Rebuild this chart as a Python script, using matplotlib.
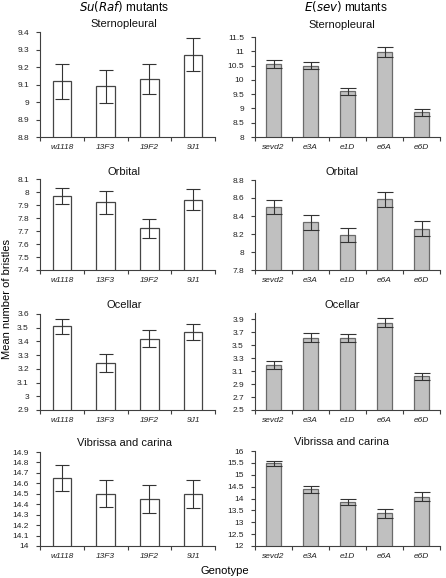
import matplotlib
matplotlib.use("Agg")
import matplotlib.pyplot as plt
import numpy as np

plt.rcParams['font.family'] = ['Liberation Sans', 'DejaVu Sans']

# ---- data ----
suraf_genotypes = ["w1118", "13F3", "19F2", "9J1"]
esev_genotypes = ["sevd2", "e3A", "e1D", "e6A", "e6D"]
panel_titles = ["Sternopleural", "Orbital", "Ocellar", "Vibrissa and carina"]

suraf_means = [
    [9.12, 9.09, 9.13, 9.27],
    [7.97, 7.92, 7.72, 7.94],
    [3.51, 3.24, 3.42, 3.47],
    [14.65, 14.50, 14.45, 14.50],
]
suraf_errs = [
    [0.10, 0.095, 0.085, 0.095],
    [0.063, 0.09, 0.07, 0.08],
    [0.056, 0.066, 0.061, 0.057],
    [0.125, 0.13, 0.135, 0.135],
]
esev_means = [
    [10.55, 10.50, 9.60, 10.97, 8.87],
    [8.50, 8.33, 8.19, 8.585, 8.26],
    [3.20, 3.62, 3.615, 3.85, 3.02],
    [15.48, 14.38, 13.87, 13.37, 14.08],
]
esev_errs = [
    [0.15, 0.13, 0.13, 0.18, 0.12],
    [0.074, 0.08, 0.075, 0.08, 0.08],
    [0.06, 0.07, 0.057, 0.067, 0.054],
    [0.10, 0.15, 0.125, 0.175, 0.175],
]
suraf_ylims = [(8.8, 9.4), (7.4, 8.1), (2.9, 3.6), (14.0, 14.9)]
suraf_ysteps = [0.1, 0.1, 0.1, 0.1]
esev_ylims = [(8.0, 11.5), (7.8, 8.8), (2.5, 4.0), (12.0, 16.0)]
esev_ysteps = [0.5, 0.2, 0.2, 0.5]

W, H = 446, 578
fig = plt.figure(figsize=(W / 100, H / 100), dpi=100)

def add_ax(x0, x1, ytop, ybot):
    return fig.add_axes([x0 / W, 1 - ybot / H, (x1 - x0) / W, (ybot - ytop) / H])

left_rows = [(32, 137), (179, 270), (314, 410), (452, 546)]
right_rows = [(37, 137), (180, 270), (313, 410), (451, 546)]
title_y_left = [24, 172, 305, 443]
title_y_right = [25, 172, 305, 442]

spine_col = "#404040"

def draw_panel(ax, labels, means, errs, ylim, step, face, edge, fmt, capsize):
    n = len(labels)
    x = np.arange(n)
    ax.bar(x, means, width=0.42, color=face, edgecolor=edge, linewidth=0.9, zorder=2)
    ax.errorbar(x, means, yerr=errs, fmt='none', ecolor="#333333", elinewidth=0.8,
                capsize=capsize, capthick=0.8, zorder=3)
    ax.set_xlim(-0.5, n - 0.5)
    ax.set_ylim(*ylim)
    ticks = np.arange(ylim[0], ylim[1] + 1e-9, step)
    ticks = [t for t in ticks if t <= ylim[1] + 1e-9]
    ax.set_yticks(ticks)
    ax.set_yticklabels([fmt(t) for t in ticks], fontsize=6, color="#222222")
    ax.set_xticks(np.arange(-0.5, n, 1.0))
    ax.set_xticklabels([])
    ax.set_xticks(x, minor=True)
    ax.set_xticklabels(labels, minor=True, fontsize=6, style='italic', color="#222222")
    ax.tick_params(axis='x', which='minor', length=0, pad=5)
    ax.tick_params(axis='x', which='major', length=3, direction='out', color=spine_col, width=0.8)
    ax.tick_params(axis='y', length=3, direction='out', color=spine_col, width=0.8, pad=5)
    for s in ['top', 'right']:
        ax.spines[s].set_visible(False)
    for s in ['left', 'bottom']:
        ax.spines[s].set_color(spine_col)
        ax.spines[s].set_linewidth(0.8)

def fmt_g(t):
    s = f"{t:.1f}"
    if s.endswith(".0"):
        s = s[:-2]
    return s

for i in range(4):
    axl = add_ax(40, 215, *left_rows[i])
    draw_panel(axl, suraf_genotypes, suraf_means[i], suraf_errs[i], suraf_ylims[i],
               suraf_ysteps[i], "white", "#454545", fmt_g, 4.8)
    fig.text(124 / W, 1 - title_y_left[i] / H, panel_titles[i], ha='center', va='center',
             fontsize=8, color="#111111")
    axr = add_ax(255, 440, *right_rows[i])
    draw_panel(axr, esev_genotypes, esev_means[i], esev_errs[i], esev_ylims[i],
               esev_ysteps[i], "#c0c0c0", "#6a6a6a", fmt_g, 5.5)
    fig.text(342 / W, 1 - title_y_right[i] / H, panel_titles[i], ha='center', va='center',
             fontsize=8, color="#111111")

fig.text(124 / W, 1 - 7 / H, r"$\it{Su(Raf)}$ mutants", ha='center', va='center', fontsize=8.5)
fig.text(346 / W, 1 - 7 / H, r"$\it{E(sev)}$ mutants", ha='center', va='center', fontsize=8.5)
fig.text(7 / W, 1 - 299 / H, "Mean number of bristles", rotation=90, ha='center', va='center',
         fontsize=8)
fig.text(225 / W, 1 - 571 / H, "Genotype", ha='center', va='center', fontsize=8)

fig.savefig("out.png", dpi=100)
